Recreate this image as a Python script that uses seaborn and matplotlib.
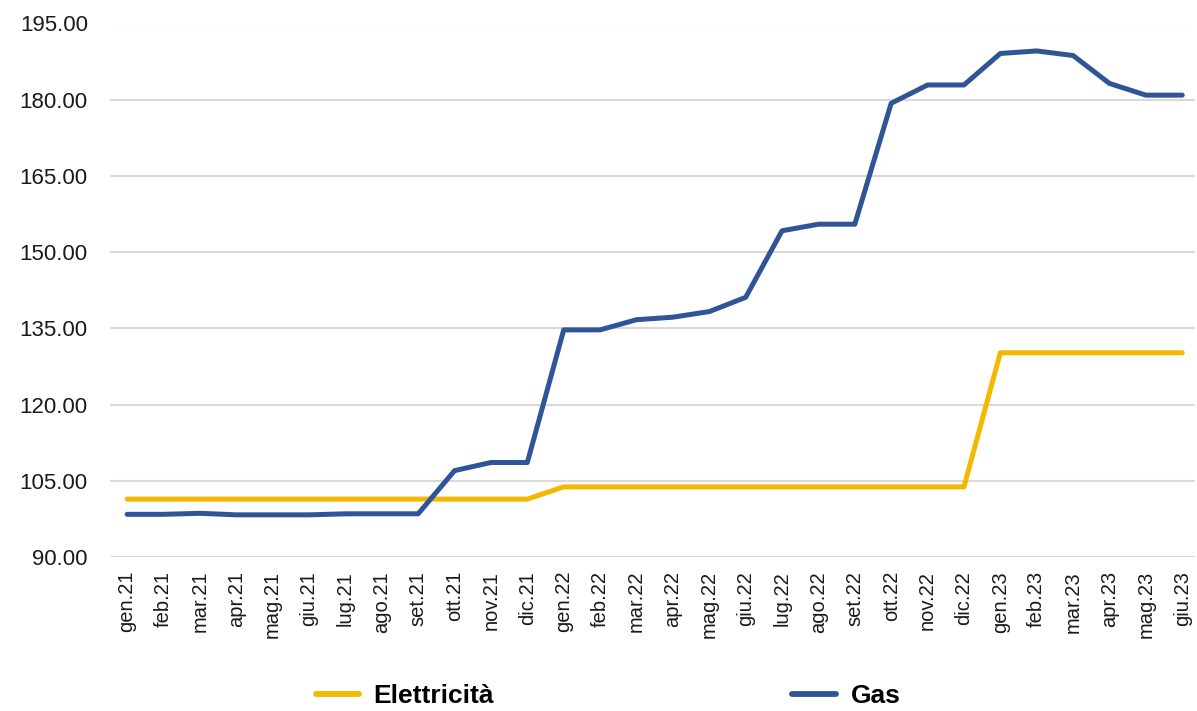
"""
Indici prezzi energia: Elettricita vs Gas
"""

import numpy as np
import pandas as pd
import matplotlib
matplotlib.use('Agg')
import matplotlib.pyplot as plt
import seaborn as sns

months = ['gen.21', 'feb.21', 'mar.21', 'apr.21', 'mag.21', 'giu.21', 'lug.21', 'ago.21', 'set.21',
          'ott.21', 'nov.21', 'dic.21', 'gen.22', 'feb.22', 'mar.22', 'apr.22', 'mag.22', 'giu.22',
          'lug.22', 'ago.22', 'set.22', 'ott.22', 'nov.22', 'dic.22', 'gen.23', 'feb.23', 'mar.23',
          'apr.23', 'mag.23', 'giu.23']

elettricita = [101.4] * 12 + [103.8] * 12 + [130.2] * 6

gas = [98.4, 98.4, 98.6, 98.3, 98.3, 98.3, 98.5, 98.5, 98.5,
       107.0, 108.6, 108.6, 134.7, 134.7, 136.7, 137.2, 138.3, 141.1,
       154.2, 155.5, 155.5, 179.3, 182.9, 182.9, 189.1, 189.6, 188.7,
       183.2, 180.9, 180.9]

y_ticks = [90, 105, 120, 135, 150, 165, 180, 195]

df = pd.DataFrame({'idx': list(range(len(months))) * 2,
                   'valore': elettricita + gas,
                   'serie': ['Elettricità'] * len(months) + ['Gas'] * len(months)})

sns.set_style('white')
plt.rcParams['font.family'] = ['Liberation Sans', 'DejaVu Sans']

fig = plt.figure(figsize=(11.97, 7.11), dpi=100)
ax = fig.add_axes([110 / 1197, 1 - 557 / 711, (1195 - 110) / 1197, (557 - 23.5) / 711])

palette = {'Elettricità': '#F4B800', 'Gas': '#2F5597'}
sns.lineplot(data=df, x='idx', y='valore', hue='serie', palette=palette, linewidth=3.6,
             ax=ax, legend=False, zorder=3)

ax.set_xlim(-0.47, 29.35)
ax.set_ylim(90, 195)
ax.set_yticks(y_ticks)
ax.set_yticklabels([f'{v:.2f}' for v in y_ticks], fontsize=16, color='#1a1a1a')
ax.set_xticks(range(len(months)))
ax.set_xticklabels(months, rotation=90, fontsize=14.5, color='#1a1a1a')
ax.tick_params(axis='y', length=0, pad=16)
ax.tick_params(axis='x', length=0, pad=10)
ax.set_xlabel('')
ax.set_ylabel('')
ax.grid(axis='y', color='#D9D9D9', linewidth=1.5, zorder=0)
for s in ax.spines.values():
    s.set_visible(False)

# legend at the bottom, drawn with proxy lines
handles = [plt.Line2D([], [], color=palette[k], linewidth=4.2, solid_capstyle='round') for k in palette]
leg = fig.legend(handles, list(palette.keys()), loc='center', bbox_to_anchor=(608 / 1197, 1 - 696 / 711),
                 ncol=2, frameon=False, handlelength=1.65, handletextpad=0.55, columnspacing=11.3,
                 prop={'weight': 'bold', 'size': 19})
for t in leg.get_texts():
    t.set_color('black')

fig.savefig('out.png', dpi=100)
